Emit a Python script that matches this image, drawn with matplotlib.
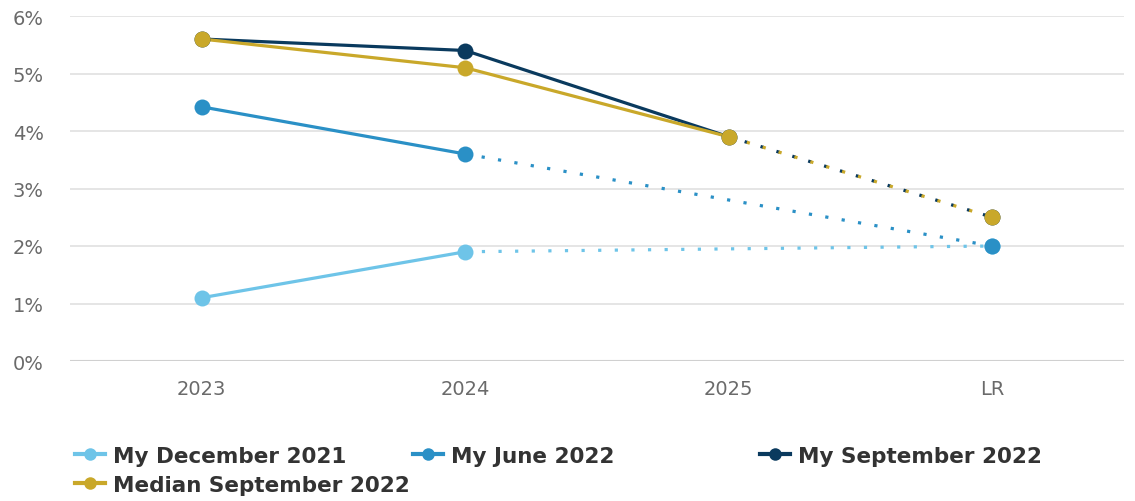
import matplotlib
matplotlib.use("Agg")
import matplotlib.pyplot as plt
import numpy as np
from matplotlib.lines import Line2D

categories = ["2023", "2024", "2025", "LR"]
dec2021 = [1.1, 1.9, np.nan, 2.0]
jun2022 = [4.42, 3.6, np.nan, 2.0]
sep2022 = [5.6, 5.4, 3.9, 2.5]
med2022 = [5.6, 5.1, 3.9, 2.5]
y_ticks = [0, 1, 2, 3, 4, 5, 6]
y_tick_labels = [f"{v}%" for v in y_ticks]

names = ["My December 2021", "My June 2022", "My September 2022", "Median September 2022"]
colors = ["#6EC4E8", "#2A90C6", "#0A3A5E", "#C9A82A"]
series = [dec2021, jun2022, sep2022, med2022]
# index where solid part ends (dotted from there to last point)
solid_end = [1, 1, 2, 2]

fig = plt.figure(figsize=(11.35, 5.02), dpi=100)
ax = fig.add_axes([70/1135, 1-362/502, (1124-70)/1135, (362-17)/502])
x = np.arange(len(categories))
lw = 2.3
for i, (vals, c, se) in enumerate(zip(series, colors, solid_end)):
    vals = np.array(vals, dtype=float)
    z = 3 + i
    ax.plot(x[:se+1], vals[:se+1], color=c, lw=lw, solid_capstyle='butt', zorder=z)
    ax.plot([x[se], x[-1]], [vals[se], vals[-1]], color=c, lw=lw,
            linestyle=(0.0 if i != 3 else -0.7, (1, 4.2)), zorder=z)
    order_z = z + 10
    if i == 0:
        order_z = z + 5
    ax.plot(x, vals, linestyle='none', marker='o', markersize=11.5, color=c,
            markeredgewidth=0, zorder=order_z)

ax.set_xlim(-0.5, 3.5)
ax.set_ylim(0, 6)
ax.set_xticks(x)
ax.set_xticklabels(categories)
ax.set_yticks(y_ticks)
ax.set_yticklabels(y_tick_labels)
ax.tick_params(axis='both', length=0, labelsize=14, colors='#6a6a6a')
ax.tick_params(axis='x', pad=13)
ax.tick_params(axis='y', pad=19)
for s in ax.spines.values():
    s.set_visible(False)
ax.grid(axis='y', color='#e3e3e3', lw=1.3, zorder=0)
ax.set_axisbelow(True)
ax.axhline(0, color='#d0d0d0', lw=1.5, zorder=1)

legend_pos = [(75, 457), (413, 457), (760, 457), (75, 486)]
for name, c, (px, py) in zip(names, colors, legend_pos):
    h = Line2D([], [], color=c, lw=3, marker='o', markersize=9, markeredgewidth=0)
    lg = fig.legend([h], [name], loc='center left',
                    bbox_to_anchor=(px/1135, 1-py/502), frameon=False,
                    borderpad=0, borderaxespad=0, handlelength=1.38, handletextpad=0.4,
                    prop=dict(family='DejaVu Sans', weight='bold', size=15.5))
    for t in lg.get_texts():
        t.set_color('#333333')

fig.savefig("out.png", dpi=100)
